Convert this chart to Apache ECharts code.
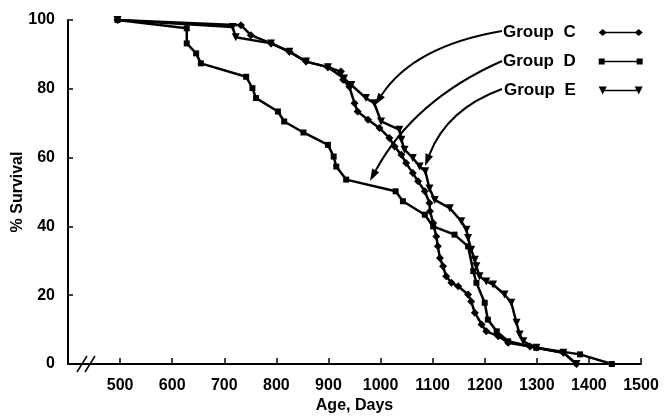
<!DOCTYPE html>
<html>
<head>
<meta charset="utf-8">
<script src="https://cdn.jsdelivr.net/npm/echarts@6/dist/echarts.min.js"></script>
<style>
html, body { margin: 0; padding: 0; background: #fff; }
#chart { width: 668px; height: 417px; }
</style>
</head>
<body>
<div id="chart"></div>
<script>
// survival curves, [age in days, % survival]
var groupC = [
  [495, 100], [732, 98.5], [751, 95.6], [790, 93.2], [825, 90.8], [857, 87.9],
  [899, 86.3], [924, 85], [928, 82.6], [940, 80.6], [950, 75.8], [956, 73.4],
  [976, 71], [998, 68.6], [1017, 65.7], [1027, 63.2], [1040, 60.8], [1049, 58.4],
  [1062, 55.5], [1072, 53.1], [1085, 50.2], [1094, 46.8], [1095, 44.4], [1101, 41],
  [1107, 37.1], [1110, 34.2], [1114, 30.8], [1120, 28.4], [1126, 25.5], [1136, 23.6],
  [1149, 22.6], [1168, 20.2], [1174, 18.2], [1181, 14.9], [1194, 11.5], [1203, 9.5],
  [1226, 8.1], [1245, 6.2], [1287, 5.1], [1351, 3.3], [1376, 0]
];
var groupD = [
  [495, 100], [628, 97.6], [628, 93.2], [646, 90.3], [655, 87.4], [742, 83.5],
  [754, 80.2], [761, 77.3], [803, 73.4], [815, 70.5], [852, 67.3], [899, 63.7],
  [910, 60.3], [915, 57.4], [934, 53.6], [1029, 50.2], [1043, 47.3], [1085, 43.4],
  [1101, 40], [1142, 37.6], [1168, 34.2], [1178, 27], [1184, 23.6], [1200, 17.8],
  [1206, 12.9], [1223, 9.5], [1245, 6.6], [1299, 4.7], [1383, 2.8], [1444, 0]
];
var groupE = [
  [495, 100], [716, 98], [722, 95], [790, 93.2], [825, 90.8], [857, 87.9],
  [899, 86.3], [930, 83], [944, 81.1], [972, 77.3], [988, 75.8], [1001, 70.5],
  [1036, 68.1], [1040, 65.2], [1046, 62.3], [1062, 59.9], [1075, 57.4], [1086, 56],
  [1094, 51], [1104, 47.7], [1133, 45.3], [1155, 41.5], [1165, 39], [1168, 36.6],
  [1174, 33.2], [1181, 30.3], [1184, 28.4], [1190, 25.5], [1203, 24], [1216, 23.1],
  [1238, 20.2], [1251, 17.8], [1261, 12], [1267, 8.6], [1274, 6.6], [1299, 4.7],
  [1351, 3.3], [1376, 0]
];
var seriesNames = ['Group C', 'Group D', 'Group E'];
var xMin = 400, xMax = 1500, xStep = 100;
var yMin = 0, yMax = 100, yStep = 20;

var font = 'Liberation Sans, Arial, Helvetica, sans-serif';

// legend icons: symbol - line - symbol
var tiny = ' M0,0L0.01,0L0,0.01Z M44,10L43.99,10L44,9.99Z';
var iconC = 'path://M0,5L4,1.5L8,5L4,8.5Z M4,4.2L40,4.2L40,5.8L4,5.8Z M36,5L40,1.5L44,5L40,8.5Z' + tiny;
var iconD = 'path://M0,2L6,2L6,8L0,8Z M3,4.2L41,4.2L41,5.8L3,5.8Z M38,2L44,2L44,8L38,8Z' + tiny;
var iconE = 'path://M0,1L8,1L4,9Z M4,4.2L40,4.2L40,5.8L4,5.8Z M36,1L44,1L40,9Z' + tiny;

// curved pointer from a label to the plot
function pointer(from, ctrl, tip) {
  var dx = tip[0] - ctrl[0], dy = tip[1] - ctrl[1];
  var len = Math.sqrt(dx * dx + dy * dy);
  dx /= len; dy /= len;
  var L = 12, W = 4;
  var bx = tip[0] - dx * L, by = tip[1] - dy * L;
  return [
    {
      type: 'bezierCurve',
      shape: { x1: from[0], y1: from[1], cpx1: ctrl[0], cpy1: ctrl[1], x2: bx, y2: by },
      style: { stroke: '#000', lineWidth: 2, fill: null }
    },
    {
      type: 'polygon',
      shape: { points: [tip, [bx - dy * W, by + dx * W], [bx + dy * W, by - dx * W]] },
      style: { fill: '#000' }
    }
  ];
}

var graphics = []
  .concat(pointer([502, 31], [414, 46], [375, 105]))
  .concat(pointer([502, 61], [414, 100], [370, 181]))
  .concat(pointer([502, 89], [447, 109], [425, 166]))
  .concat([
    { type: 'line', shape: { x1: 77, y1: 372, x2: 87, y2: 356 }, style: { stroke: '#000', lineWidth: 1.5 } },
    { type: 'line', shape: { x1: 85, y1: 372, x2: 95, y2: 356 }, style: { stroke: '#000', lineWidth: 1.5 } }
  ]);

var chart = echarts.init(document.getElementById('chart'));

function makeSeries(name, data, symbol, size, rotate) {
  return {
    name: name,
    type: 'line',
    data: data,
    symbol: symbol,
    symbolSize: size,
    symbolRotate: rotate,
    clip: false,
    lineStyle: { color: '#000', width: 2.5 },
    itemStyle: { color: '#000' },
    emphasis: { disabled: true }
  };
}

chart.setOption({
  animation: false,
  backgroundColor: '#fff',
  grid: { left: 68, right: 27, top: 20, bottom: 53, containLabel: false, outerBoundsMode: 'none' },
  legend: {
    orient: 'vertical',
    left: 503,
    top: 24,
    padding: 0,
    align: 'right',
    itemWidth: 44,
    itemHeight: 10,
    itemGap: 12,
    selectedMode: false,
    formatter: function (name) { return name.replace(' ', '  '); },
    textStyle: {
      fontFamily: font, fontWeight: 'bold', fontSize: 17, color: '#000',
      width: 76, padding: [0, 18, 0, 0]
    },
    data: [
      { name: seriesNames[0], icon: iconC },
      { name: seriesNames[1], icon: iconD },
      { name: seriesNames[2], icon: iconE }
    ]
  },
  xAxis: {
    type: 'value',
    min: xMin,
    max: xMax,
    interval: xStep,
    name: 'Age, Days',
    nameLocation: 'middle',
    nameGap: 34,
    nameMoveOverlap: false,
    nameTextStyle: { fontFamily: font, fontWeight: 'bold', fontSize: 16, color: '#000' },
    splitLine: { show: false },
    axisLine: { lineStyle: { color: '#000', width: 2 } },
    axisTick: { inside: true, length: 6, lineStyle: { color: '#000', width: 1.5 } },
    axisLabel: {
      margin: 14,
      fontFamily: font, fontWeight: 'bold', fontSize: 16, color: '#000',
      formatter: function (v) { return v === xMin ? '' : String(v); }
    }
  },
  yAxis: {
    type: 'value',
    min: yMin,
    max: yMax,
    interval: yStep,
    name: '% Survival',
    nameLocation: 'middle',
    nameGap: 42,
    nameMoveOverlap: false,
    nameTextStyle: { fontFamily: font, fontWeight: 'bold', fontSize: 16, color: '#000' },
    splitLine: { show: false },
    axisLine: { show: true, lineStyle: { color: '#000', width: 2 } },
    axisTick: { show: true, inside: true, length: 5, lineStyle: { color: '#000', width: 1.5 } },
    axisLabel: { margin: 13, fontFamily: font, fontWeight: 'bold', fontSize: 16, color: '#000' }
  },
  series: [
    makeSeries(seriesNames[0], groupC, 'diamond', 8, 0),
    makeSeries(seriesNames[1], groupD, 'rect', 6, 0),
    makeSeries(seriesNames[2], groupE, 'triangle', 8, 180)
  ],
  graphic: graphics
});
</script>
</body>
</html>
